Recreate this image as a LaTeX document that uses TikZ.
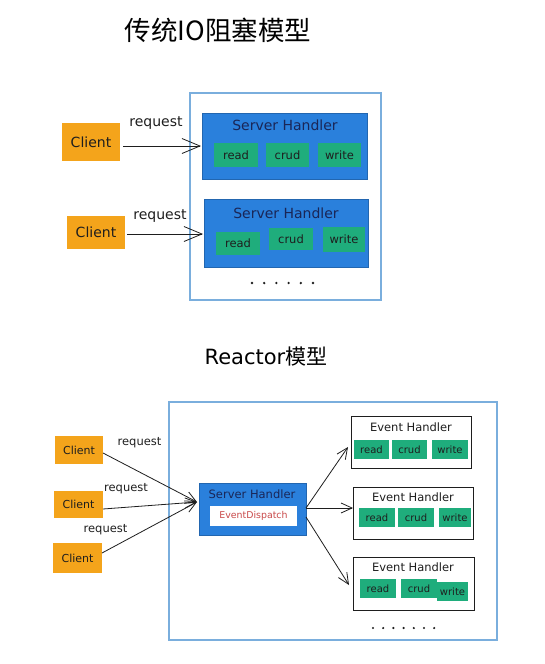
\documentclass[tikz,border=0pt]{standalone}
\usepackage{fontspec}
\setmainfont{DejaVu Sans}
\newfontfamily\cjk{Noto Sans CJK SC}
\usetikzlibrary{arrows.meta}
\definecolor{corange}{HTML}{F4A41B}
\definecolor{cblue}{HTML}{2A80DC}
\definecolor{cgreen}{HTML}{1FAD7C}
\definecolor{couter}{HTML}{7AAEDD}
\definecolor{cnavy}{HTML}{1A2657}
\definecolor{cred}{HTML}{C94A4A}
\definecolor{ctext}{HTML}{1E1E1E}
\newcommand\myfs[1]{\fontsize{#1}{#1}\selectfont}
\begin{document}
\begin{tikzpicture}[x=1pt,y=-1pt,
  every node/.style={inner sep=0pt,outer sep=0pt},
  sz/.style 2 args={minimum width=#1pt,minimum height=#2pt},
  outerbox/.style={draw=couter,line width=1.3pt},
  clientbox/.style={fill=corange,text=ctext},
  serverbox/.style={fill=cblue,draw=cblue!80!black,line width=0.4pt},
  opbox/.style={fill=cgreen,text=ctext},
  eventbox/.style={draw=ctext,line width=1pt,fill=white},
  dispbox/.style={fill=white,text=cred},
  navytext/.style={text=cnavy},
  lbl/.style={text=ctext},
  arrT/.style={-{Straight Barb[length=18pt,width=15pt]},line width=0.8pt,draw=ctext},
  arrB/.style={-{Straight Barb[length=11pt,width=10pt]},line width=0.8pt,draw=ctext}
]
\useasboundingbox[fill=white] (0,0) rectangle (545,664);

% ---------- top: traditional blocking IO ----------
\node[text=black,font=\cjk\myfs{26.5}] (title1) at (218,30) {传统IO阻塞模型};

\node[outerbox,sz={191}{207}] (outer1) at (285.5,196.5) {};

\node[serverbox,sz={165}{66}] (sh1) at (284.5,146) {};
\node[navytext,font=\myfs{14}] (sh1t) at (285,125) {Server Handler};
\node[opbox,sz={44}{24},font=\myfs{11.5}] (r1) at (236,155) {read};
\node[opbox,sz={43}{24},font=\myfs{11.5}] (c1) at (287.5,155) {crud};
\node[opbox,sz={43}{24},font=\myfs{11.5}] (w1) at (339.5,155) {write};

\node[serverbox,sz={164}{68}] (sh2) at (286,233) {};
\node[navytext,font=\myfs{14}] (sh2t) at (286,213) {Server Handler};
\node[opbox,sz={44}{23},font=\myfs{11.5}] (r2) at (238,243.5) {read};
\node[opbox,sz={44}{22},font=\myfs{11.5}] (c2) at (291,239) {crud};
\node[opbox,sz={42}{25},font=\myfs{11.5}] (w2) at (344,239.5) {write};

\foreach \i in {0,...,5} \fill[ctext] (252+\i*12.2,283) circle (1.3pt);

\node[clientbox,sz={58}{38},font=\myfs{14}] (cl1) at (91,142) {Client};
\node[clientbox,sz={58}{33},font=\myfs{14}] (cl2) at (96,232.5) {Client};

\draw[arrT,shorten <=3pt,shorten >=1pt] (cl1.east |- sh1.west) -- (sh1.west);
\draw[arrT,shorten <=2pt,shorten >=1pt] (cl2.east |- 0,234) -- (sh2.west |- 0,234);
\node[lbl,font=\myfs{14}] (rq1) at (156,123) {request};
\node[lbl,font=\myfs{14}] (rq2) at (160,216) {request};

% ---------- bottom: Reactor ----------
\node[text=black,font=\myfs{21}] (title2) at (266,357) {Reactor{\cjk 模型}};

\node[outerbox,sz={328}{238}] (outer2) at (333,521) {};

\node[serverbox,sz={107}{52}] (sh3) at (252.5,509) {};
\node[navytext,font=\myfs{11.5}] (sh3t) at (252,494) {Server Handler};
\node[dispbox,sz={87}{20},font=\myfs{9.4}] (ed) at (253.5,516) {EventDispatch};

\node[eventbox,sz={120}{52}] (eh1) at (411,442) {};
\node[lbl,font=\myfs{11.5}] (eh1t) at (411,427) {Event Handler};
\node[opbox,sz={35}{19},font=\myfs{10}] (er1) at (371.5,449.5) {read};
\node[opbox,sz={35}{19},font=\myfs{10}] (ec1) at (409.5,449.5) {crud};
\node[opbox,sz={36}{19},font=\myfs{10}] (ew1) at (450,449.5) {write};

\node[eventbox,sz={120}{52}] (eh2) at (413,513) {};
\node[lbl,font=\myfs{11.5}] (eh2t) at (413,497) {Event Handler};
\node[opbox,sz={36}{19},font=\myfs{10}] (er2) at (377,517.5) {read};
\node[opbox,sz={36}{19},font=\myfs{10}] (ec2) at (416,517.5) {crud};
\node[opbox,sz={32}{19},font=\myfs{10}] (ew2) at (455,517.5) {write};

\node[eventbox,sz={121}{53}] (eh3) at (413.5,583.5) {};
\node[lbl,font=\myfs{11.5}] (eh3t) at (413,567) {Event Handler};
\node[opbox,sz={36}{19},font=\myfs{10}] (er3) at (378,588.5) {read};
\node[opbox,sz={36}{19},font=\myfs{10}] (ec3) at (419,588.5) {crud};
\node[opbox,sz={31}{19},font=\myfs{10}] (ew3) at (452.5,591.5) {write};

\foreach \i in {0,...,6} \fill[ctext] (373+\i*10.2,628) circle (1.2pt);

\node[clientbox,sz={48}{28},font=\myfs{11}] (ca) at (79,450) {Client};
\node[clientbox,sz={49}{27},font=\myfs{11}] (cb) at (78.5,504.5) {Client};
\node[clientbox,sz={49}{30},font=\myfs{11}] (cc) at (77.5,558) {Client};

\draw[arrB] ([yshift=-3pt]ca.east) -- ([xshift=-2pt,yshift=7pt]sh3.west);
\draw[arrB] ([yshift=-4.5pt]cb.east) -- ([xshift=-2pt,yshift=7pt]sh3.west);
\draw[arrB] ([yshift=5pt]cc.east) -- ([xshift=-2pt,yshift=7pt]sh3.west);
\node[lbl,font=\myfs{11.5}] (rqa) at (139.5,443) {request};
\node[lbl,font=\myfs{11.5}] (rqb) at (126,489) {request};
\node[lbl,font=\myfs{11.5}] (rqc) at (105.5,530) {request};

\draw[arrB] ([yshift=1pt]sh3.east) -- ([xshift=-3pt,yshift=-5pt]eh1.west);
\draw[arrB] ([yshift=1pt]sh3.east) -- ([yshift=5pt]eh2.west);
\draw[arrB] ([yshift=-8pt]sh3.east) -- ([xshift=-4pt,yshift=-1.5pt]eh3.west);
\end{tikzpicture}
\end{document}
